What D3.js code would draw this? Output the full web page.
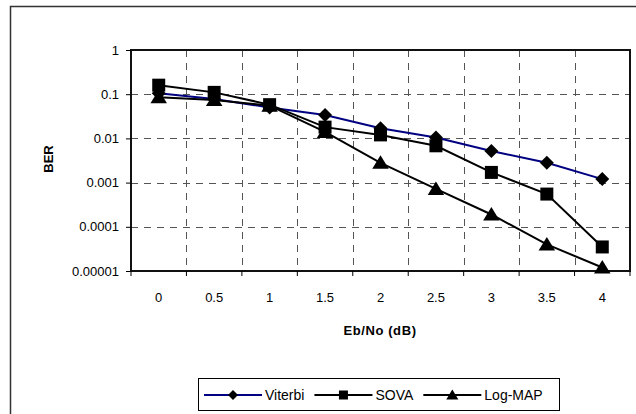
<!DOCTYPE html>
<html lang="en">
<head>
  <meta charset="utf-8">
  <title>BER vs Eb/No</title>
  <script src="https://cdn.jsdelivr.net/npm/d3@7/dist/d3.min.js"></script>
  <style>
    body { margin: 0; background: #fff; }
    text { font-family: "Liberation Sans", Arial, sans-serif; }
  </style>
</head>
<body>
  <script>
    // data
    var ebno = ["0", "0.5", "1", "1.5", "2", "2.5", "3", "3.5", "4"];
    var viterbi = [0.105, 0.078, 0.05, 0.034, 0.017, 0.0105, 0.0052, 0.0028, 0.0012];
    var sova = [0.16, 0.11, 0.058, 0.018, 0.012, 0.0068, 0.0017, 0.00055, 0.000035];
    var logmap = [0.085, 0.074, 0.055, 0.014, 0.0028, 0.00072, 0.00019, 0.00004, 0.000012];
    var yTicks = [1, 0.1, 0.01, 0.001, 0.0001, 0.00001];
    var seriesNames = ["Viterbi", "SOVA", "Log-MAP"];

    var W = 636, H = 414;
    var margin = { top: 50, right: 6, bottom: 143, left: 131 };
    var width = W - margin.left - margin.right;
    var height = H - margin.top - margin.bottom;

    var svg = d3.select("body").append("svg")
      .attr("width", W)
      .attr("height", H);

    // outer chart border (runs off the right and bottom)
    svg.append("rect")
      .attr("x", 10.5).attr("y", 6.5)
      .attr("width", 700).attr("height", 500)
      .attr("fill", "none")
      .attr("stroke", "#333")
      .attr("stroke-width", 1.5);

    var g = svg.append("g")
      .attr("transform", "translate(" + margin.left + "," + margin.top + ")");

    var x = d3.scaleBand().domain(ebno).range([0, width]).padding(0);
    var y = d3.scaleLog().domain([0.00001, 1]).range([height, 0]);

    // horizontal grid
    g.selectAll(".hgrid")
      .data(yTicks.slice(1, -1))
      .enter().append("line")
      .attr("x1", 0).attr("x2", width)
      .attr("y1", function(d) { return Math.round(y(d)) + 0.5; })
      .attr("y2", function(d) { return Math.round(y(d)) + 0.5; })
      .attr("stroke", "#555")
      .attr("stroke-dasharray", "7,6");

    // vertical grid between categories
    var bounds = ebno.map(function(d) { return x(d); }).concat([width]);
    g.selectAll(".vgrid")
      .data(bounds.slice(1, -1))
      .enter().append("line")
      .attr("x1", function(d) { return Math.round(d) + 0.5; })
      .attr("x2", function(d) { return Math.round(d) + 0.5; })
      .attr("y1", 0).attr("y2", height)
      .attr("stroke", "#555")
      .attr("stroke-dasharray", "7,6");

    // plot frame
    g.append("rect")
      .attr("width", width).attr("height", height)
      .attr("fill", "none")
      .attr("stroke", "#111")
      .attr("stroke-width", 2);

    // y axis
    var yAxis = d3.axisLeft(y)
      .tickValues(yTicks)
      .tickFormat(function(d) { return String(+d.toFixed(5)); })
      .tickSize(5).tickPadding(7);
    var ya = g.append("g").call(yAxis);
    ya.select(".domain").remove();
    ya.selectAll("text").attr("font-size", 13).attr("fill", "#000")
      .style("font-family", "'Liberation Sans', Arial, sans-serif");
    ya.selectAll("line").attr("stroke", "#000");

    // x axis: tick marks at band edges, labels in band centres
    g.selectAll(".xtick")
      .data(bounds)
      .enter().append("line")
      .attr("x1", function(d) { return d; })
      .attr("x2", function(d) { return d; })
      .attr("y1", height).attr("y2", height + 5)
      .attr("stroke", "#000");
    g.selectAll(".xlab")
      .data(ebno)
      .enter().append("text")
      .attr("x", function(d) { return x(d) + x.bandwidth() / 2; })
      .attr("y", height + 31)
      .attr("text-anchor", "middle")
      .attr("font-size", 13)
      .text(function(d) { return d; });

    // axis titles
    g.append("text")
      .attr("x", 249).attr("y", height + 64)
      .attr("text-anchor", "middle")
      .attr("font-size", 13)
      .attr("font-weight", "bold")
      .attr("letter-spacing", 0.6)
      .text("Eb/No (dB)");
    svg.append("text")
      .attr("transform", "translate(53,159) rotate(-90)")
      .attr("text-anchor", "middle")
      .attr("font-size", 13)
      .attr("font-weight", "bold")
      .text("BER");

    // marker shapes
    function diamond(s) {
      return "M0," + (-s) + "L" + s + ",0L0," + s + "L" + (-s) + ",0Z";
    }
    function square(s) {
      return "M" + (-s) + "," + (-s) + "H" + s + "V" + s + "H" + (-s) + "Z";
    }
    function triangle(s) {
      return "M0," + (-s) + "L" + (s * 1.1) + "," + (s * 0.8) + "L" + (-s * 1.1) + "," + (s * 0.8) + "Z";
    }

    var series = [
      { name: seriesNames[0], values: viterbi, color: "#000080", marker: diamond, size: 7, lsize: 5 },
      { name: seriesNames[1], values: sova, color: "#000", marker: square, size: 6.5, lsize: 4.5 },
      { name: seriesNames[2], values: logmap, color: "#000", marker: triangle, size: 7.5, lsize: 5.5 }
    ];

    var line = d3.line()
      .x(function(d, i) { return x(ebno[i]) + x.bandwidth() / 2; })
      .y(function(d) { return y(d); });

    series.forEach(function(s) {
      g.append("path")
        .datum(s.values)
        .attr("d", line)
        .attr("fill", "none")
        .attr("stroke", s.color)
        .attr("stroke-width", 2);
      g.selectAll(null)
        .data(s.values)
        .enter().append("path")
        .attr("transform", function(d, i) {
          return "translate(" + (x(ebno[i]) + x.bandwidth() / 2) + "," + y(d) + ")";
        })
        .attr("d", s.marker(s.size))
        .attr("fill", "#000");
    });

    // legend
    var legend = svg.append("g");
    var lx = 204, ly = 395;
    series.forEach(function(s) {
      var it = legend.append("g").attr("transform", "translate(" + lx + "," + ly + ")");
      it.append("line")
        .attr("x1", 0).attr("x2", 58)
        .attr("stroke", s.color).attr("stroke-width", 2);
      it.append("path")
        .attr("transform", "translate(29,0)")
        .attr("d", s.marker(s.lsize))
        .attr("fill", "#000");
      var t = it.append("text")
        .attr("x", 61).attr("y", 5)
        .attr("font-size", 14)
        .text(s.name);
      lx += 61 + t.node().getComputedTextLength() + 10;
    });
    legend.insert("rect", ":first-child")
      .attr("x", 198.5).attr("y", 378.5)
      .attr("width", 361).attr("height", 32)
      .attr("fill", "#fff")
      .attr("stroke", "#000")
      .attr("stroke-width", 1);
  </script>
</body>
</html>
